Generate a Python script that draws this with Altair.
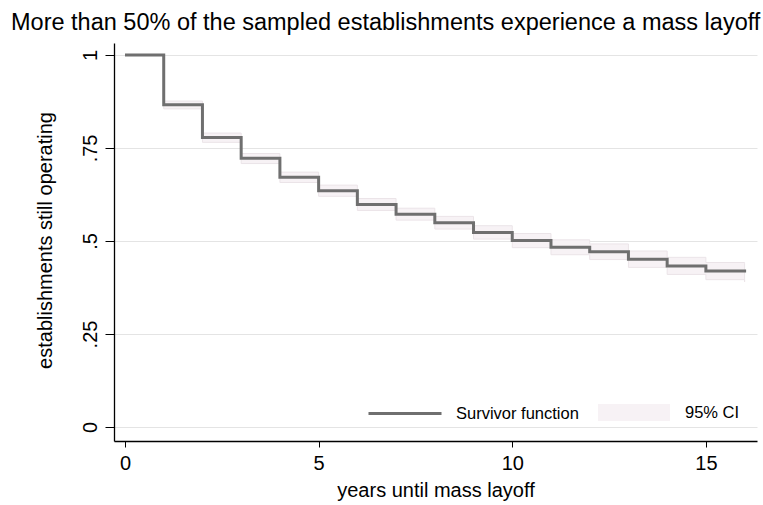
import altair as alt
import pandas as pd

# Kaplan-Meier survivor estimate
years = list(range(17))
survivor = [1.0, 0.866, 0.778, 0.722, 0.671, 0.635, 0.598, 0.572, 0.549,
            0.523, 0.501, 0.483, 0.471, 0.451, 0.433, 0.419, 0.415]
ci_upper = [1.0, 0.876, 0.790, 0.735, 0.685, 0.650, 0.614, 0.588, 0.566,
            0.541, 0.520, 0.503, 0.492, 0.473, 0.456, 0.442, 0.440]
ci_lower = [1.0, 0.855, 0.765, 0.708, 0.657, 0.620, 0.582, 0.556, 0.532,
            0.505, 0.482, 0.463, 0.450, 0.429, 0.410, 0.396, 0.390]
x_ticks = [0, 5, 10, 15]
y_ticks = [0, 0.25, 0.5, 0.75, 1]

FONT = "Liberation Sans"
LINE_COLOR = "#6f6f6f"
CI_COLOR = "#f7f2f5"

df = pd.DataFrame({
    "years": years,
    "surv": survivor,
    "lo": ci_lower,
    "hi": ci_upper,
    "line": "Survivor function",
    "band": "95% CI",
})

x_enc = alt.X(
    "years:Q",
    scale=alt.Scale(domain=[-0.284, 16.32], nice=False, zero=False),
    axis=alt.Axis(
        values=x_ticks, title="years until mass layoff", grid=False,
        domainColor="black", domainWidth=1.3, tickColor="black", tickSize=6,
        labelFontSize=20, labelFont=FONT, labelColor="black",
        labelBaseline="alphabetic", labelPadding=22,
        titleFontSize=20, titleFont=FONT, titleFontWeight="normal", titleColor="black",
        titleBaseline="alphabetic", titleY=55, titleX=321.5,
    ),
)

y_scale = alt.Scale(domain=[-0.0376, 1.032], nice=False, zero=False)

band = alt.Chart(df).mark_area(
    interpolate="step-after", stroke="#ebe4e8", strokeWidth=1
).encode(
    x=x_enc,
    y=alt.Y(
        "lo:Q", scale=y_scale,
        axis=alt.Axis(
            values=y_ticks, title="establishments still operating",
            labelExpr="datum.value == 0 ? '0' : datum.value == 1 ? '1' : slice(format(datum.value, '~g'), 1)",
            grid=True, gridColor="#e4e4e4", gridWidth=1,
            domainColor="black", domainWidth=1.3, tickColor="black", tickSize=9,
            labelAngle=270, labelAlign="center", labelBaseline="alphabetic", labelPadding=9,
            labelFontSize=20, labelFont=FONT, labelColor="black",
            titleFontSize=20, titleFont=FONT, titleFontWeight="normal", titleColor="black",
            titleAngle=270, titleAlign="center", titleBaseline="alphabetic",
            titleX=-63, titleY=197,
        ),
    ),
    y2="hi:Q",
    fill=alt.Fill(
        "band:N",
        scale=alt.Scale(range=[CI_COLOR]),
        legend=alt.Legend(
            title=None, orient="none", legendX=484, legendY=333.5, padding=0,
            symbolType="M-1,-0.236H1V0.236H-1Z", symbolSize=5184,
            symbolStrokeWidth=0, symbolOpacity=1, labelOffset=15,
            labelFontSize=16.5, labelFont=FONT, labelColor="black",
        ),
    ),
)

line = alt.Chart(df).mark_line(
    interpolate="step-after", strokeWidth=3
).encode(
    x="years:Q",
    y=alt.Y("surv:Q", scale=y_scale),
    color=alt.Color(
        "line:N",
        scale=alt.Scale(range=[LINE_COLOR]),
        legend=alt.Legend(
            title=None, orient="none", legendX=253, legendY=332.5, padding=0,
            symbolType="stroke", symbolSize=5329, symbolStrokeWidth=3,
            labelOffset=13,
            labelFontSize=16.5, labelFont=FONT, labelColor="black",
        ),
    ),
)

chart = alt.layer(band, line).resolve_scale(
    color="independent", fill="independent"
).properties(
    width=643,
    height=398,
    autosize=alt.AutoSizeParams(type="none"),
    padding={"left": 114, "top": 43, "right": 6, "bottom": 64},
    background="white",
    title=alt.TitleParams(
        "More than 50% of the sampled establishments experience a mass layoff",
        anchor="start", frame="group", dx=-103, dy=26, offset=16,
        fontSize=23.5, font=FONT, fontWeight="normal", color="black",
        baseline="alphabetic",
    ),
).configure_view(stroke=None)

chart.save("out.html", embed_options={"renderer": "svg", "actions": False})
